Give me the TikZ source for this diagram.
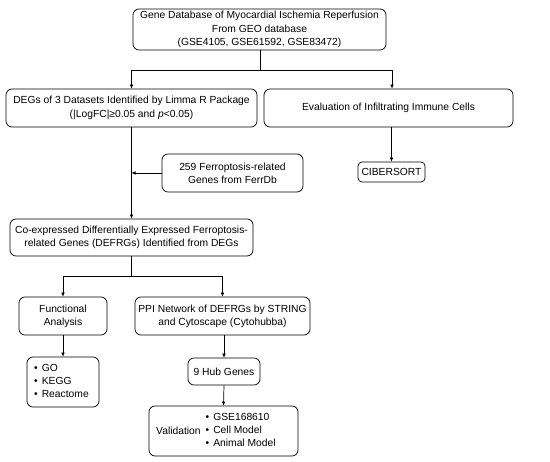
\documentclass[tikz,border=0pt]{standalone}
\usepackage{fontspec}
\setmainfont{Liberation Sans}
\usetikzlibrary{arrows.meta}
\begin{document}
\begin{tikzpicture}[x=1pt,y=-1pt,
  box/.style={draw, line width=0.7pt, rounded corners=6pt, inner sep=0pt, align=center,
    font=\fontsize{10.3}{13.3}\selectfont},
  txt/.style={inner sep=0pt, font=\fontsize{10.3}{13.3}\selectfont},
  conn/.style={line width=0.7pt},
  arr/.style={line width=0.7pt, -{Latex[length=4pt,width=3.6pt]}}]
\useasboundingbox (0,0) rectangle (550,462);
\node[box, minimum width=253pt, minimum height=41pt] (top) at (259.5,29.5)
  {Gene Database of Myocardial Ischemia Reperfusion\\From GEO database\\(GSE4105, GSE61592, GSE83472)};
\node[box, minimum width=251pt, minimum height=38pt] (degs) at (131.5,108)
  {DEGs of 3 Datasets Identified by Limma R Package\\(|LogFC|≥0.05 and \textit{p}<0.05)};
\node[box, minimum width=249pt, minimum height=38pt] (eval) at (388.5,108)
  {Evaluation of Infiltrating Immune Cells};
\node[box, minimum width=141pt, minimum height=38pt] (ferr) at (232.5,173)
  {259 Ferroptosis-related\\Genes from FerrDb};
\node[box, minimum width=67pt, minimum height=20pt, rounded corners=4pt] (cib) at (391.5,172)
  {CIBERSORT};
\node[box, minimum width=243pt, minimum height=37pt] (coexp) at (131.5,237.5)
  {Co-expressed Differentially Expressed Ferroptosis-\\related Genes (DEFRGs) Identified from DEGs};
\node[box, minimum width=88pt, minimum height=38pt] (func) at (63,316)
  {Functional\\Analysis};
\node[box, minimum width=175pt, minimum height=38pt] (ppi) at (222.5,316)
  {PPI Network of DEFRGs by STRING\\and Cytoscape (Cytohubba)};
\node[box, minimum width=72pt, minimum height=50pt] (list) at (63,382) {};
\node[txt, anchor=west] (listtxt) at (34,382)
  {\begin{tabular}{@{}l@{\hspace{4pt}}l@{}}•&GO\\•&KEGG\\•&Reactome\end{tabular}};
\node[box, minimum width=72pt, minimum height=27pt] (hub) at (224,371.5)
  {9 Hub Genes};
\node[box, minimum width=149pt, minimum height=50pt] (valid) at (223.5,431) {};
\node[txt, anchor=west] (validtxt) at (156,431) {Validation};
\node[txt, anchor=west] (validlist) at (205.5,431)
  {\begin{tabular}{@{}l@{\hspace{4pt}}l@{}}•&GSE168610\\•&Cell Model\\•&Animal Model\end{tabular}};
% connectors
\coordinate (j1) at (260,70);
\coordinate (j2) at (131.5,276);
\draw[conn] (top.south -| j1) -- (j1);
\draw[arr] (j1) -| (degs.north);
\draw[arr] (j1) -| ([xshift=3.5pt]eval.north);
\draw[arr] (cib.north |- eval.south) -- (cib.north);
\draw[arr] (degs.south) -- (coexp.north);
\draw[arr] (ferr.west) -- (ferr.west -| degs.south);
\draw[conn] (coexp.south) -- (j2);
\draw[arr] (j2) -| (func.north);
\draw[arr] (j2) -| (ppi.north);
\draw[arr] (func.south) -- (list.north);
\draw[arr] (hub.north |- ppi.south) -- (hub.north);
\draw[arr] (hub.south) -- (valid.north);
\end{tikzpicture}
\end{document}
